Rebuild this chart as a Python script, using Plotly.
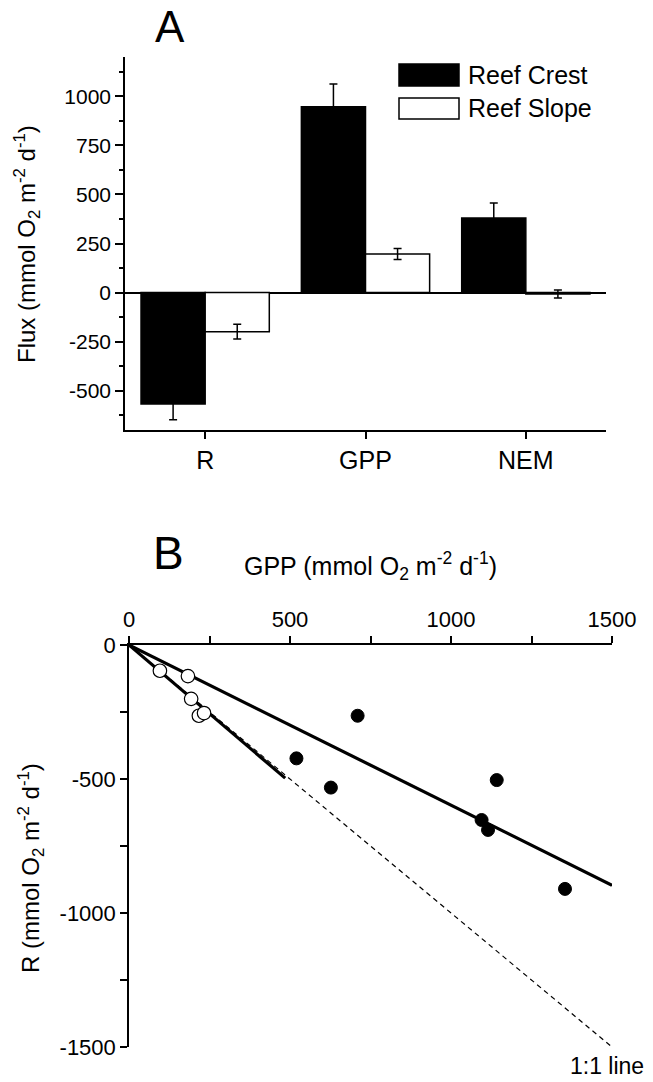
import numpy as np
import plotly.graph_objects as go

# ---------------- Data ----------------
categories = ["R", "GPP", "NEM"]
crest_vals = [-568, 946, 380]
crest_err = [80, 117, 76]
slope_vals = [-199, 196, -7]
slope_err = [38, 28, 20]

a_tickvals = [-500, -250, 0, 250, 500, 750, 1000]
a_ticktext = ["-500", "-250", "0", "250", "500", "750", "1000"]

slope_gpp = [96, 183, 193, 217, 233]
slope_r = [-96, -116, -201, -264, -254]
crest_gpp = [520, 627, 710, 1095, 1115, 1142, 1354]
crest_r = [-423, -532, -264, -653, -690, -504, -910]

b_xtickvals = [0, 500, 1000, 1500]
b_xticktext = ["0", "500", "1000", "1500"]
b_ytickvals = [0, -500, -1000, -1500]
b_yticktext = ["0", "-500", "-1000", "-1500"]

crest_fit_x = [0, 1500]
slope_fit_x = [0, 485]
one_to_one_x = [0, 1500]

W, H = 653, 1082
FONT = "Liberation Sans, Arial, Helvetica, sans-serif"


def fx(p):
    return p / W


def fy(p):
    return 1 - p / H


def fit_through_origin(x, y):
    x = np.asarray(x, float)
    y = np.asarray(y, float)
    return float((x * y).sum() / (x * x).sum())


k_crest = fit_through_origin(crest_gpp, crest_r)
k_slope = fit_through_origin(slope_gpp, slope_r)

fig = go.Figure()

fig.add_trace(go.Bar(
    x=categories, y=crest_vals, name="Reef Crest",
    marker=dict(color="black", line=dict(color="black", width=1.5)),
    error_y=dict(type="data", array=crest_err, visible=True, color="black",
                 thickness=1.5, width=4),
    xaxis="x", yaxis="y", showlegend=False,
))
fig.add_trace(go.Bar(
    x=categories, y=slope_vals, name="Reef Slope",
    marker=dict(color="white", line=dict(color="black", width=1.5)),
    error_y=dict(type="data", array=slope_err, visible=True, color="black",
                 thickness=1.5, width=4),
    xaxis="x", yaxis="y", showlegend=False,
))

fig.add_trace(go.Scatter(
    x=one_to_one_x, y=[-v for v in one_to_one_x], mode="lines",
    line=dict(color="black", width=1.2, dash="5px,4px"),
    xaxis="x2", yaxis="y2", showlegend=False,
))
fig.add_trace(go.Scatter(
    x=crest_fit_x, y=[k_crest * v for v in crest_fit_x], mode="lines",
    line=dict(color="black", width=3.2),
    xaxis="x2", yaxis="y2", showlegend=False,
))
fig.add_trace(go.Scatter(
    x=slope_fit_x, y=[k_slope * v for v in slope_fit_x], mode="lines",
    line=dict(color="black", width=3.2),
    xaxis="x2", yaxis="y2", showlegend=False,
))
fig.add_trace(go.Scatter(
    x=crest_gpp, y=crest_r, mode="markers",
    marker=dict(symbol="circle", size=13, color="black",
                line=dict(color="black", width=1)),
    xaxis="x2", yaxis="y2", showlegend=False,
))
fig.add_trace(go.Scatter(
    x=slope_gpp, y=slope_r, mode="markers",
    marker=dict(symbol="circle", size=13.5, color="white",
                line=dict(color="black", width=1.2)),
    xaxis="x2", yaxis="y2", showlegend=False,
))

axis_common = dict(showgrid=False, showline=True, linecolor="black",
                   linewidth=1.5, ticks="outside", tickcolor="black",
                   tickwidth=1.5, mirror=False, automargin=False)

fig.update_layout(
    width=W, height=H, autosize=False, showlegend=False,
    margin=dict(l=0, r=0, t=0, b=0, pad=0, autoexpand=False),
    paper_bgcolor="white", plot_bgcolor="white",
    font=dict(family=FONT, color="black"),
    barmode="group", bargap=0.2, bargroupgap=0,
    xaxis=dict(**axis_common, domain=[fx(125), fx(606)], anchor="y",
               type="category", range=[-0.5, 2.5], ticklen=7,
               tickfont=dict(size=25), zeroline=False),
    yaxis=dict(**axis_common, domain=[fy(430), fy(57)], anchor="x",
               range=[-700, 1200], tickmode="array", tickvals=a_tickvals,
               ticktext=a_ticktext, ticklen=8, tickfont=dict(size=21),
               minor=dict(ticks="outside", ticklen=4, tick0=125, dtick=250,
                          tickcolor="black", tickwidth=1.5),
               zeroline=True, zerolinecolor="black", zerolinewidth=1.5),
    xaxis2=dict(**axis_common, domain=[fx(129), fx(612)], anchor="y2",
                side="top", range=[0, 1500], tickmode="array",
                tickvals=b_xtickvals, ticktext=b_xticktext, ticklen=7,
                tickfont=dict(size=22),
                minor=dict(ticks="outside", ticklen=7, tick0=250, dtick=500,
                           tickcolor="black", tickwidth=1.5),
                zeroline=False),
    yaxis2=dict(**axis_common, domain=[fy(1047), fy(645)], anchor="x2",
                range=[-1500, 0], tickmode="array", tickvals=b_ytickvals,
                ticktext=b_yticktext, ticklen=7, tickfont=dict(size=22),
                minor=dict(ticks="outside", ticklen=7, tick0=-250, dtick=500,
                           tickcolor="black", tickwidth=1.5),
                zeroline=False),
)

unit = "(mmol O<sub>2</sub> m<sup>-2</sup> d<sup>-1</sup>)"
annotations = [
    dict(text="A", x=fx(170), y=fy(27), font=dict(size=44)),
    dict(text="B", x=fx(168), y=fy(553), font=dict(size=46)),
    dict(text="Flux " + unit, x=fx(27), y=fy(244), textangle=-90,
         font=dict(size=24)),
    dict(text="R " + unit, x=fx(31), y=fy(868), textangle=-90,
         font=dict(size=24)),
    dict(text="GPP " + unit, x=fx(370), y=fy(566), font=dict(size=25)),
    dict(text="1:1 line", x=fx(607), y=fy(1066), font=dict(size=23)),
    dict(text="Reef Crest", x=fx(466), y=fy(75), xanchor="left",
         font=dict(size=25)),
    dict(text="Reef Slope", x=fx(466), y=fy(108), xanchor="left",
         font=dict(size=25)),
]
for a in annotations:
    a.setdefault("xanchor", "center")
    a.update(xref="paper", yref="paper", yanchor="middle", showarrow=False)
fig.update_layout(annotations=annotations)

fig.update_layout(shapes=[
    dict(type="rect", xref="paper", yref="paper", x0=fx(399), x1=fx(459),
         y0=fy(86), y1=fy(64), fillcolor="black",
         line=dict(color="black", width=1.5)),
    dict(type="rect", xref="paper", yref="paper", x0=fx(399), x1=fx(459),
         y0=fy(119), y1=fy(98), fillcolor="white",
         line=dict(color="black", width=1.5)),
])

fig.write_html(
    "out.html",
    config={"displayModeBar": False},
    post_script=(
        "document.documentElement.style.margin='0';"
        "document.documentElement.style.overflow='hidden';"
        "document.body.style.margin='0';"
        "document.body.style.overflow='hidden';"
    ),
)
